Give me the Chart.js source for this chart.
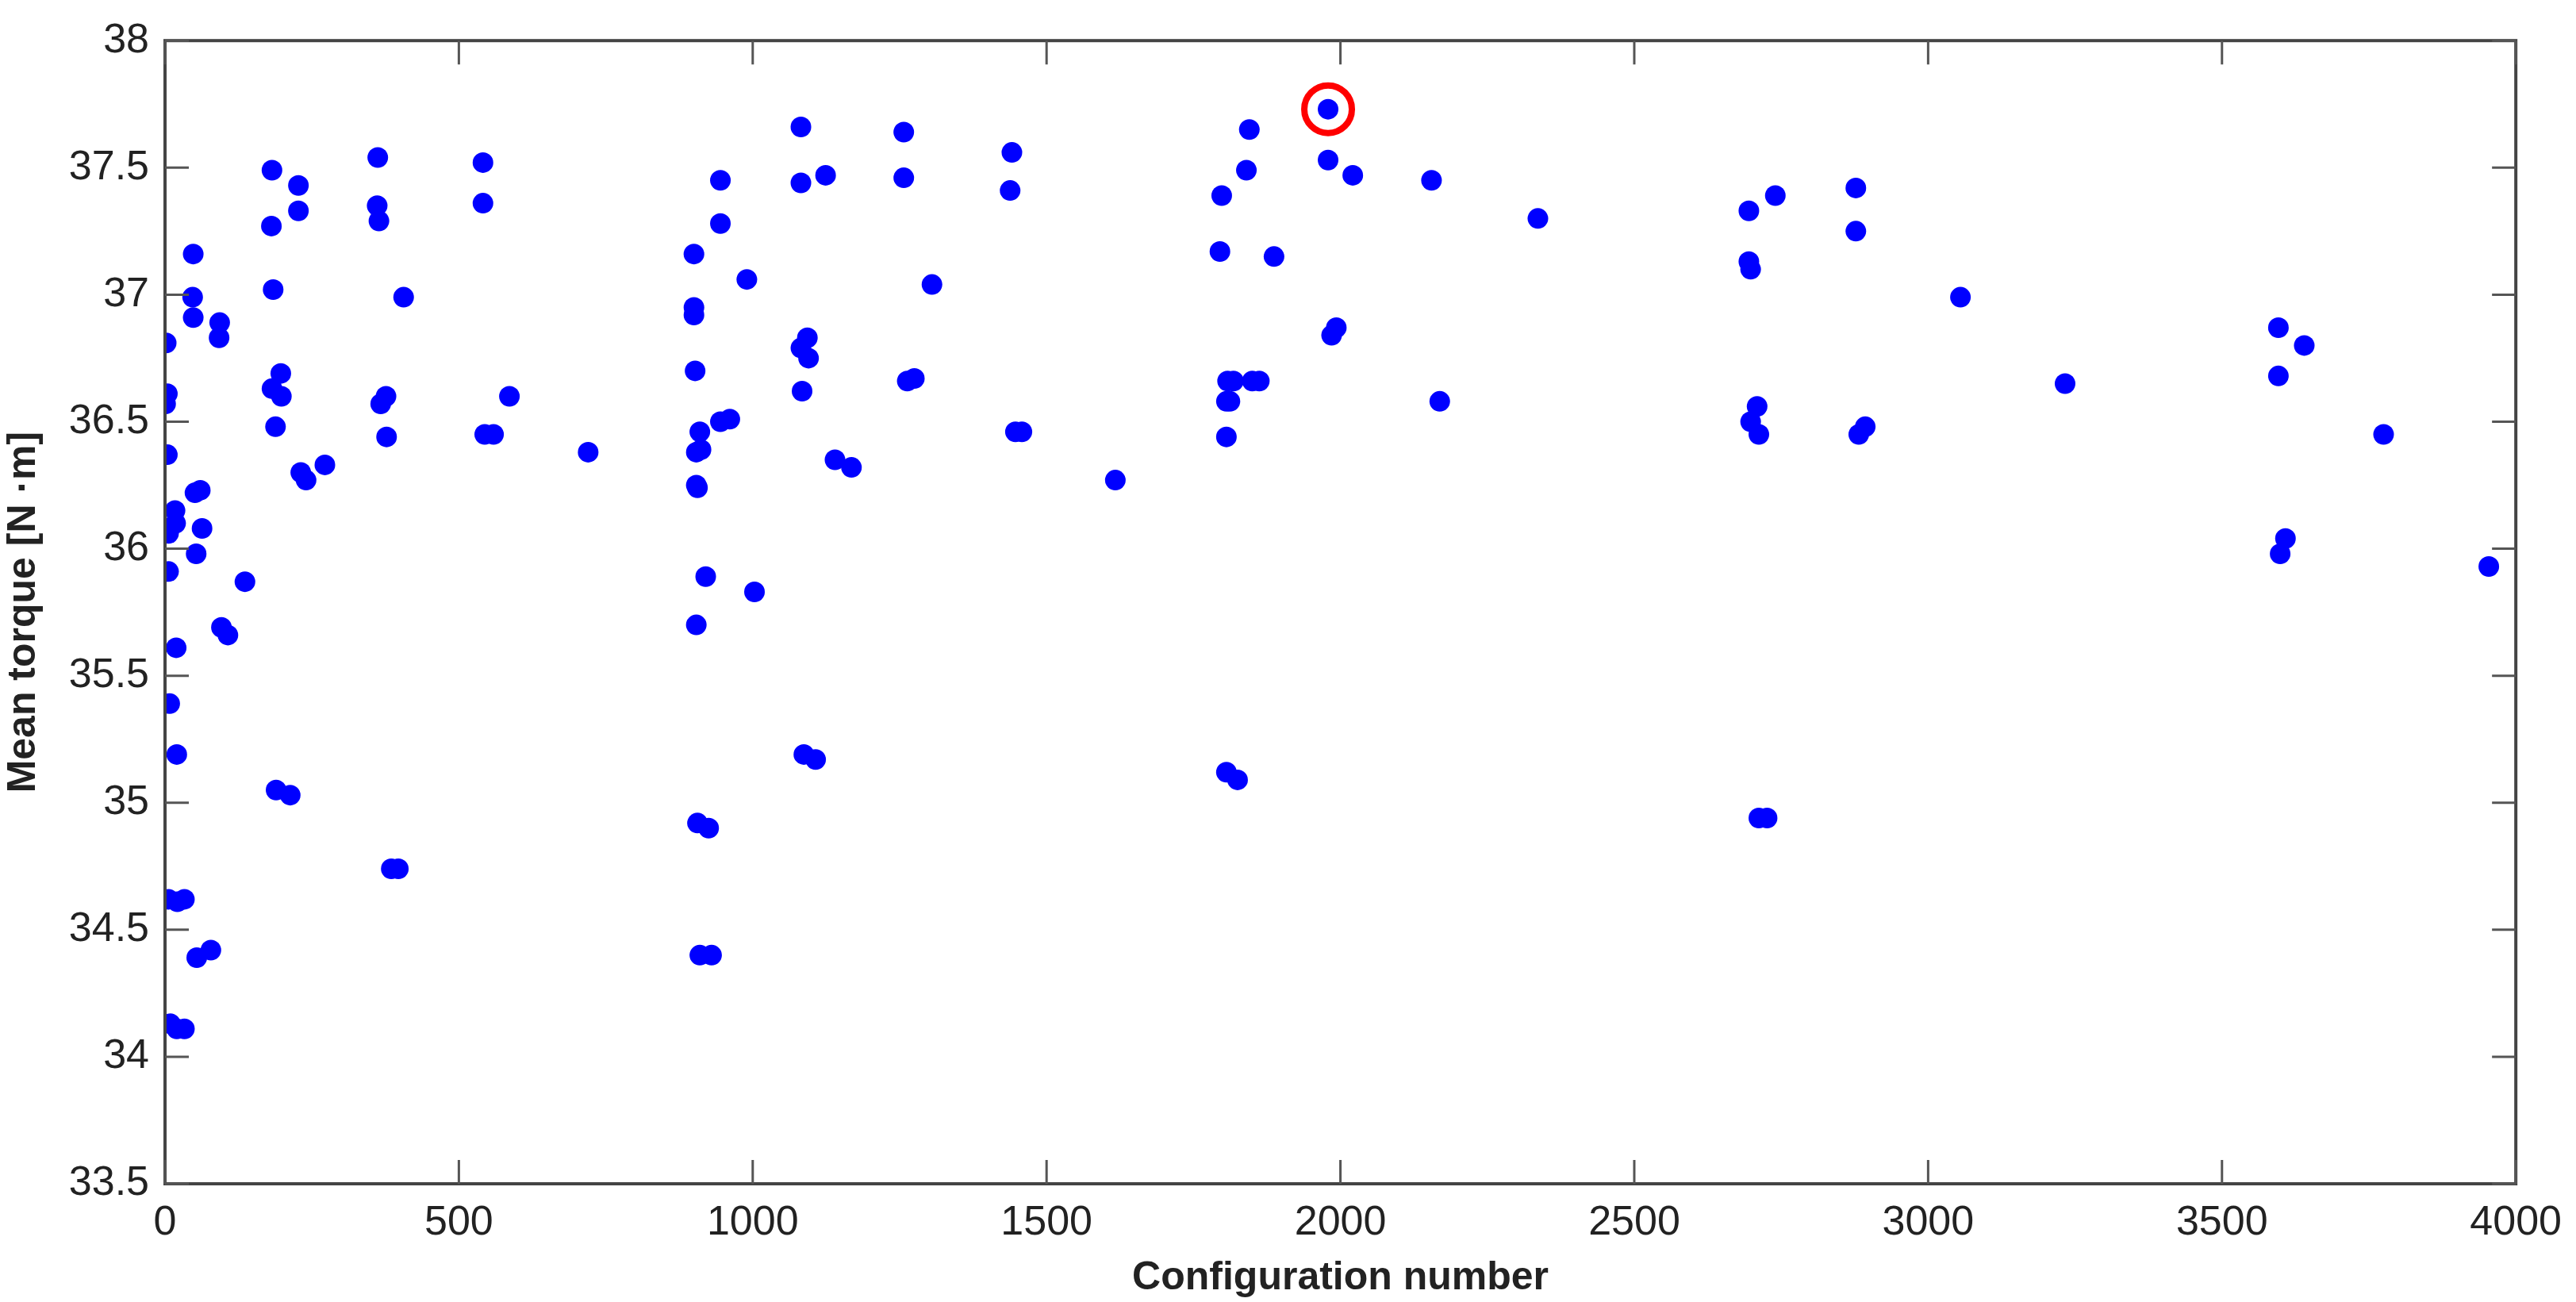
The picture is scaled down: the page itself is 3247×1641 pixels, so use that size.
<!DOCTYPE html>
<html><head><meta charset="utf-8">
<script src="https://cdn.jsdelivr.net/npm/chart.js@4"></script>
<style>html,body{margin:0;padding:0;background:#fff}#c{display:block}</style>
</head><body>
<canvas id="c" width="3247" height="1641"></canvas>
<script>
const configNumbers = [182,227,227,181,362,361,364,541,541,48,184,406,47,48,93,92,2,900,900,900,902,197,182,198,376,367,586,4,1,188,377,544,559,720,910,904,912,904,906,4,231,240,272,60,51,17,18,6,63,53,6,136,96,107,19,8,20,189,213,920,904,906,925,385,397,6,33,21,910,930,54,78,9,33,20,
945,945,990,945,961,1003,1082,1082,1124,1093,1082,1095,1084,1140,1168,1087,1107,1257,1257,1305,1263,1275,1441,1438,1447,1458,1617,1798,1845,1840,1795,1887,1806,1806,1812,1808,1818,1850,1862,1806,1825,1979,1979,2021,1985,1993,2155,2169,2336,2695,2695,2698,2740,2698,2709,2712,2712,2726,2877,2877,2882,2893,3055,3233,3596,3640,3596,3775,3954,3608,3599];
const meanTorque = [37.49,37.43,37.33,37.27,37.54,37.35,37.29,37.52,37.36,37.16,37.02,36.99,36.99,36.91,36.89,36.83,36.81,37.16,36.95,36.92,36.70,36.69,36.63,36.60,36.60,36.57,36.60,36.61,36.57,36.48,36.44,36.45,36.45,36.38,36.46,36.38,36.39,36.25,36.24,36.37,36.30,36.27,36.33,36.23,36.22,36.15,36.10,36.06,36.08,35.98,35.91,35.87,35.69,35.66,35.61,35.39,35.19,35.05,35.03,35.89,35.70,34.92,34.90,34.74,34.74,34.62,34.62,34.61,34.40,34.40,34.39,34.42,34.13,34.11,34.11,
37.45,37.28,37.06,36.50,36.51,35.83,37.66,37.44,37.47,36.83,36.79,36.75,36.62,36.35,36.32,35.19,35.17,37.64,37.46,37.04,36.66,36.67,37.56,37.41,36.46,36.46,36.27,37.39,37.65,37.49,37.17,37.15,36.44,36.58,36.58,36.66,36.66,36.66,36.66,35.12,35.09,37.73,37.53,37.47,36.84,36.87,37.45,36.58,37.30,37.33,37.13,37.10,37.39,36.50,36.56,36.45,34.94,34.94,37.42,37.25,36.45,36.48,36.99,36.65,36.87,36.80,36.68,36.45,35.93,36.04,35.98];
const bestX = [1979], bestY = [37.73];
const xTicks = [0,500,1000,1500,2000,2500,3000,3500,4000];
const yTicks = [33.5,34,34.5,35,35.5,36,36.5,37,37.5,38];

const pts = configNumbers.map((x,i)=>({x, y: meanTorque[i]}));
const best = bestX.map((x,i)=>({x, y: bestY[i]}));
const FONT = "'Liberation Sans', Arial, sans-serif";

const boxPlugin = {
  id:'box',
  afterDraw(chart){
    const {ctx, chartArea:a, scales:{x,y}} = chart;
    ctx.save();
    ctx.strokeStyle = '#444'; ctx.lineWidth = 4;
    ctx.strokeRect(a.left, a.top, a.right-a.left, a.bottom-a.top);
    ctx.lineWidth = 3; ctx.strokeStyle='#555';
    const L = 30;
    xTicks.forEach(v=>{const p=x.getPixelForValue(v);
      ctx.beginPath();ctx.moveTo(p,a.bottom);ctx.lineTo(p,a.bottom-L);ctx.moveTo(p,a.top);ctx.lineTo(p,a.top+L);ctx.stroke();});
    yTicks.forEach(v=>{const p=y.getPixelForValue(v);
      ctx.beginPath();ctx.moveTo(a.left,p);ctx.lineTo(a.left+L,p);ctx.moveTo(a.right,p);ctx.lineTo(a.right-L,p);ctx.stroke();});
    ctx.restore();
  }
};

new Chart(document.getElementById('c'), {
  type:'scatter',
  data:{datasets:[
    {data:best, pointRadius:30, pointBorderWidth:8, pointBorderColor:'#ff0000', pointBackgroundColor:'rgba(0,0,0,0)', order:0},
    {data:pts, pointRadius:13, pointBorderWidth:0, pointBackgroundColor:'#0000ff', order:1}
  ]},
  options:{
    responsive:false, animation:false, devicePixelRatio:1,
    layout:{padding:{top:49,right:74,left:0,bottom:0}},
    plugins:{legend:{display:false}, tooltip:{enabled:false}},
    scales:{
      x:{type:'linear', min:0, max:4000,
        afterBuildTicks(s){s.ticks = xTicks.map(v=>({value:v}));},
        afterFit(s){s.height = 149;},
        grid:{display:false, drawTicks:false}, border:{display:false},
        ticks:{padding:18, color:'#222', font:{family:FONT, size:52}, maxRotation:0, callback:v=>String(v)},
        title:{display:true, text:'Configuration number', color:'#222', font:{family:FONT, size:50, weight:'bold'}, padding:{top:0,bottom:0}}
      },
      y:{type:'linear', min:33.5, max:38,
        afterBuildTicks(s){s.ticks = yTicks.map(v=>({value:v}));},
        afterFit(s){s.width = 208;},
        grid:{display:false, drawTicks:false}, border:{display:false},
        ticks:{padding:20, color:'#222', font:{family:FONT, size:52}, callback:v=>String(v)},
        title:{display:true, text:'Mean torque [N ·m]', color:'#222', font:{family:FONT, size:50, weight:'bold'}, padding:{top:0,bottom:0}}
      }
    }
  },
  plugins:[boxPlugin]
});
</script>
</body></html>
